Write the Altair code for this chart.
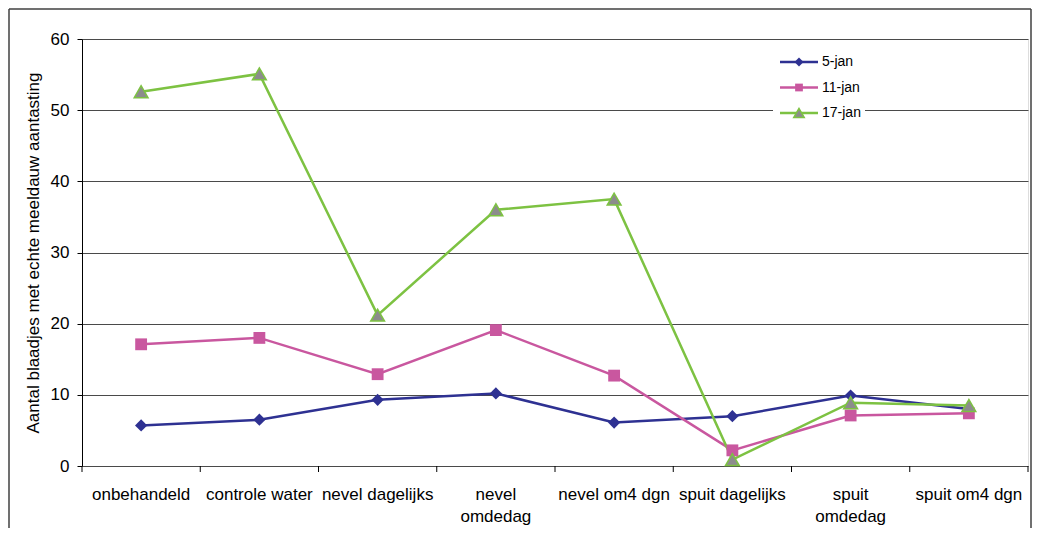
import altair as alt
import pandas as pd

categories = ["onbehandeld", "controle water", "nevel dagelijks", "nevel omdedag",
              "nevel om4 dgn", "spuit dagelijks", "spuit omdedag", "spuit om4 dgn"]
label_line1 = ["onbehandeld", "controle water", "nevel dagelijks", "nevel",
               "nevel om4 dgn", "spuit dagelijks", "spuit", "spuit om4 dgn"]
label_line2 = ["", "", "", "omdedag", "", "", "omdedag", ""]
series = ["5-jan", "11-jan", "17-jan"]
jan5 = [5.7, 6.5, 9.3, 10.2, 6.1, 7.0, 9.9, 8.0]
jan11 = [17.1, 18.0, 12.9, 19.1, 12.7, 2.2, 7.1, 7.4]
jan17 = [52.6, 55.1, 21.2, 36.0, 37.5, 0.9, 8.9, 8.5]
y_ticks = [0, 10, 20, 30, 40, 50, 60]

line_colors = ["#2E3192", "#C9579F", "#7DC242"]
fill_colors = ["#2E3192", "#C9579F", "#8C8C8C"]
shapes = ["diamond", "square", "triangle-up"]

rows = []
for s, vals in zip(series, [jan5, jan11, jan17]):
    for c, v in zip(categories, vals):
        rows.append({"behandeling": c, "serie": s, "aantal": v})
df = pd.DataFrame(rows)
cat_df = pd.DataFrame({"behandeling": categories, "l1": label_line1, "l2": label_line2})

W, H = 946, 427
FONT = "Liberation Sans"

x_scale = alt.Scale(type="band", domain=categories, paddingInner=0, paddingOuter=0)
x_enc = alt.X(
    "behandeling:N", sort=categories, bandPosition=0.5, scale=x_scale,
    axis=alt.Axis(title=None, labels=False, ticks=False, grid=False, domainColor="black"),
)
y_enc = alt.Y(
    "aantal:Q",
    scale=alt.Scale(domain=[0, 60], nice=False, zero=True),
    axis=alt.Axis(values=y_ticks, title="Aantal blaadjes met echte meeldauw aantasting",
                  titleFontSize=17, titleFont=FONT, titleFontWeight="normal", titleColor="black",
                  titlePadding=8, labelFontSize=17, labelFont=FONT, labelColor="black",
                  labelPadding=8, tickSize=5, tickColor="black", domainColor="black",
                  grid=True, gridColor="#4a4a4a", gridWidth=1),
)

base = alt.Chart(df)

lines = base.mark_line(strokeWidth=2.5).encode(
    x=x_enc, y=y_enc,
    color=alt.Color("serie:N", scale=alt.Scale(domain=series, range=line_colors), legend=None),
    detail="serie:N",
)

pts5 = base.transform_filter(alt.datum.serie == "5-jan").mark_point(
    shape="diamond", filled=True, size=150, color=line_colors[0], opacity=1
).encode(x=x_enc, y=y_enc)
pts11 = base.transform_filter(alt.datum.serie == "11-jan").mark_point(
    shape="square", filled=True, size=140, color=line_colors[1], opacity=1
).encode(x=x_enc, y=y_enc)
pts17 = base.transform_filter(alt.datum.serie == "17-jan").mark_point(
    shape="triangle-up", filled=True, size=190, fill=fill_colors[2], stroke=line_colors[2],
    strokeWidth=1.5, opacity=1
).encode(x=x_enc, y=y_enc)

# x-axis ticks on the category boundaries
x_plain = lambda bp: alt.X("behandeling:N", sort=categories, bandPosition=bp, scale=x_scale, axis=None)
cat_base = alt.Chart(cat_df)
tick_start = cat_base.mark_rule(color="black", strokeWidth=1).encode(
    x=x_plain(0), y=alt.value(H), y2=alt.value(H + 6))
tick_end = cat_base.transform_filter(
    alt.datum.behandeling == categories[-1]).mark_rule(color="black", strokeWidth=1).encode(
    x=x_plain(1), y=alt.value(H), y2=alt.value(H + 6))

# category labels (two lines where the original wraps)
lab1 = cat_base.mark_text(font=FONT, fontSize=17, color="black", baseline="middle").encode(
    x=x_plain(0.5), y=alt.value(H + 29), text="l1:N")
lab2 = cat_base.mark_text(font=FONT, fontSize=17, color="black", baseline="middle").encode(
    x=x_plain(0.5), y=alt.value(H + 51), text="l2:N")

# legend (drawn inside the plot, top right, on a white box)
one = alt.Data(values=[{"k": 1}])
legend_layers = [
    alt.Chart(one).mark_rect(fill="white", stroke=None).encode(
        x=alt.value(691), x2=alt.value(783), y=alt.value(4), y2=alt.value(92))
]
row_y = [23, 48.5, 74]
for i, s in enumerate(series):
    legend_layers.append(alt.Chart(one).mark_rule(color=line_colors[i], strokeWidth=2.5).encode(
        x=alt.value(698), x2=alt.value(736), y=alt.value(row_y[i])))
    legend_layers.append(alt.Chart(one).mark_point(
        shape=shapes[i], filled=True, opacity=1, fill=fill_colors[i], stroke=line_colors[i],
        strokeWidth=1.5 if i == 2 else 0, size=[80, 60, 110][i]).encode(
        x=alt.value(717), y=alt.value(row_y[i])))
    legend_layers.append(alt.Chart(one).mark_text(
        font=FONT, fontSize=14, color="black", align="left", baseline="middle").encode(
        x=alt.value(740), y=alt.value(row_y[i]), text=alt.value(s)))

# outer chart frame
frame_left = alt.Chart(one).mark_rule(color="#404040", strokeWidth=1.5).encode(
    x=alt.value(-73), y=alt.value(-30), y2=alt.value(H + 90))
frame_top = alt.Chart(one).mark_rule(color="#404040", strokeWidth=1.5).encode(
    x=alt.value(-73), x2=alt.value(W + 3), y=alt.value(-30))
frame_right = alt.Chart(one).mark_rule(color="#404040", strokeWidth=1.5).encode(
    x=alt.value(W + 3), y=alt.value(-30), y2=alt.value(H + 90))

chart = alt.layer(lines, pts5, pts11, pts17, tick_start, tick_end, lab1, lab2,
                  *legend_layers, frame_left, frame_top, frame_right).properties(
    width=W, height=H,
    padding={"left": 74, "top": 31, "right": 4, "bottom": 62},
    autosize=alt.AutoSizeParams(type="none"),
).configure_view(stroke="#888888", strokeWidth=1).configure(
    font=FONT, background="white"
)

chart.save("out.html", embed_options={"renderer": "svg", "actions": False})
